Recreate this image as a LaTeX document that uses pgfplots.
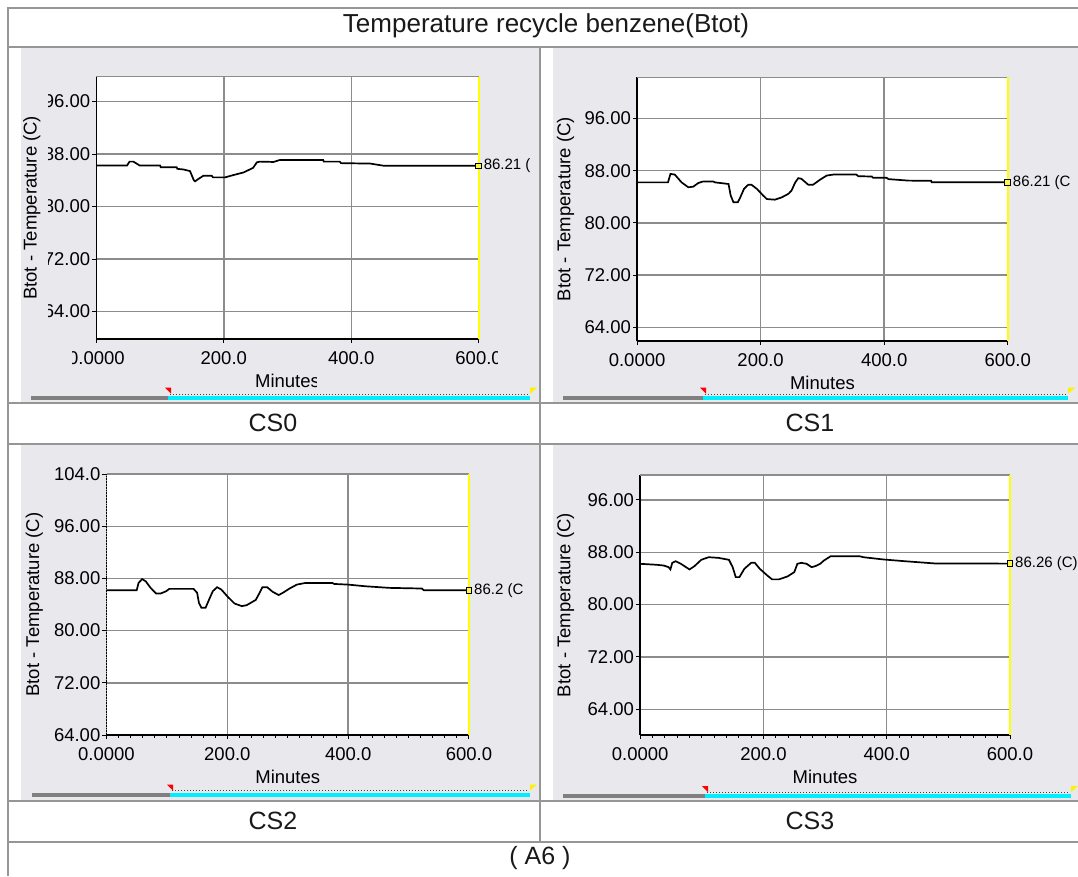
\documentclass[border=0pt]{standalone}
\usepackage{fontspec}
\setmainfont{Liberation Sans}
\usepackage{pgfplots}
\usepackage{pgfplotstable}
\pgfplotsset{compat=1.18}

\definecolor{panelbg}{RGB}{233,232,237}
\definecolor{rulegray}{RGB}{150,150,150}
\definecolor{gridgray}{RGB}{140,140,140}
\definecolor{cursor}{RGB}{255,255,0}
\definecolor{track}{RGB}{0,238,255}
\definecolor{slidergray}{RGB}{128,128,128}
\definecolor{captext}{RGB}{25,25,25}

\newcommand\tickfont{\fontsize{18.5}{20}\selectfont}
\newcommand\valfont{\fontsize{15}{17}\selectfont}
\newcommand\capfont{\fontsize{25}{28}\selectfont}
\newcommand\titlefont{\fontsize{26}{29}\selectfont}

% Btot temperature trends, minutes vs degC
\pgfplotstableread{
t v
0 86.25
48 86.25
52 86.85
58 86.85
64 86.50
68 86.25
100 86.25
101 86.00
126 86.00
127 85.75
137 85.65
147 85.40
150 84.70
153 84.00
155 83.85
160 84.20
168 84.70
181 84.70
183 84.45
202 84.45
215 84.80
231 85.20
246 85.90
252 86.75
257 86.85
278 86.80
288 87.10
356 87.10
357 86.85
382 86.85
384 86.62
430 86.55
452 86.21
600 86.21
}\csZero

\pgfplotstableread{
t v
0 86.20
50 86.20
54 87.50
61 87.40
72 86.20
83 85.45
91 85.55
99 86.10
107 86.35
123 86.35
126 86.20
140 86.05
148 85.95
151.5 84.20
156 83.15
163 83.15
167 83.90
173 85.20
180 85.85
185 85.85
194 85.20
204 84.20
210 83.65
223 83.55
234 83.90
245 84.45
250 84.95
256 86.20
261 86.85
266 86.75
277 85.85
285 85.85
296 86.60
307 87.25
318 87.40
355 87.40
358 87.15
380 87.10
382 86.90
404 86.90
407 86.70
440 86.47
476 86.45
477 86.21
600 86.21
}\csOne

\pgfplotstableread{
t v
0 86.20
50 86.20
53 87.30
59 87.90
65 87.55
73 86.55
82 85.70
90 85.70
99 86.05
104 86.40
144 86.40
150 85.80
153 84.25
157 83.50
164 83.50
170 84.80
176 86.05
183 86.65
190 86.30
201 85.15
212 84.15
224 83.75
232 83.90
247 84.70
252 85.55
258 86.65
266 86.65
275 85.95
285 85.45
292 85.80
303 86.45
315 87.05
329 87.30
374 87.30
377 87.15
400 87.05
428 86.80
468 86.55
522 86.45
525 86.20
600 86.20
}\csTwo

\pgfplotstableread{
t v
0 86.23
27 86.08
38 85.97
46 85.72
49 85.37
52 86.38
57.5 86.63
66 86.23
80 85.37
88 85.87
99 86.84
111 87.24
127 87.14
144 86.84
150 85.72
155 84.20
161 84.20
169 85.47
180 86.38
186 86.38
194 85.47
206 84.46
214 83.85
225 83.85
239 84.30
250 84.96
255 86.23
261.5 86.38
270 86.23
278 85.72
284 85.87
292 86.23
298 86.73
309 87.39
356 87.39
362 87.24
395 86.89
429 86.63
479 86.28
600 86.26
}\csThree

\pgfplotsset{
  trend/.style={
    scale only axis, clip=false,
    xmin=0, xmax=600,
    xtick={0,200,400,600},
    xticklabels={0.0000,200.0,400.0,600.0},
    ytick={64,72,80,88,96},
    yticklabels={64.00,72.00,80.00,88.00,96.00},
    axis x line*=bottom, axis y line*=left,
    axis line style={black, line width=1.8pt},
    tick align=outside,
    major tick length=4pt,
    minor tick length=3pt,
    tick style={black, line width=1pt},
    grid=major,
    major grid style={gridgray, line width=1.4pt},
    axis background/.style={fill=white},
    ticklabel style={font=\tickfont, text=black, inner sep=2pt},
    xticklabel style={yshift=-6pt},
    label style={font=\tickfont, text=black},
    xlabel={Minutes},
    ylabel={Btot - Temperature (C)},
    xlabel style={at={(axis description cs:0.5,0)}, anchor=center, yshift=-42pt},
  },
  curve/.style={black, line width=1.7pt, sharp plot},
  endmark/.style={only marks, mark=square*, mark size=2.8pt,
    mark options={fill=yellow!70!white, draw=black, line width=0.9pt}},
}

% time-window slider under each trend: left end, handle, right end, height
\newcommand\slider[4]{%
  \fill[slidergray] (#1,#4-2) rectangle (#2,#4+2);
  \fill[track] (#2,#4-2) rectangle (#3,#4+2);
  \draw[black!75, line width=1.1pt, dash pattern=on 1.2pt off 1.8pt] (#2+2,#4-3.6) -- (#3-2,#4-3.6);
  \fill[red] (#2-3,#4-10) -- (#2+3,#4-10) -- (#2+3,#4-4) -- cycle;
  \fill[yellow] (#3,#4-10) -- (#3+7,#4-10) -- (#3,#4-4) -- cycle;
}

\begin{document}
\begin{tikzpicture}
\useasboundingbox (0pt,0pt) rectangle (1078pt,-876pt);

\begin{scope}[x=1pt,y=-1pt]
  \fill[white] (0,0) rectangle (1078,876);
  \fill[panelbg] (21,48) rectangle (539,402);
  \fill[panelbg] (553,48) rectangle (1078,402);
  \fill[panelbg] (21,445) rectangle (539,800);
  \fill[panelbg] (553,445) rectangle (1078,800);
\end{scope}

% CS0
\begin{axis}[trend,
  at={(96.4pt,-339pt)}, anchor=south west,
  width=382.2pt, height=262.3pt,
  ymin=59.8, ymax=99.8,
  ylabel style={at={(axis description cs:-0.169,0.5)}, anchor=center},
]
  \draw[gridgray, line width=1.4pt] (rel axis cs:0,1) -- (rel axis cs:1,1);
  \draw[cursor, line width=2pt] (rel axis cs:1,0) -- (rel axis cs:1,1);
  \addplot[curve] table[x=t, y=v] {\csZero};
  \addplot[endmark] coordinates {(600,86.21)};
  \node[anchor=west, font=\valfont, inner sep=0pt, xshift=5pt] at (axis cs:600,86.21) {86.21 (};
\end{axis}

% CS1
\begin{axis}[trend,
  at={(637.1pt,-341pt)}, anchor=south west,
  width=370.6pt, height=263.7pt,
  ymin=61.9, ymax=102.3,
  ylabel style={at={(axis description cs:-0.193,0.5)}, anchor=center},
]
  \draw[gridgray, line width=1.4pt] (rel axis cs:0,1) -- (rel axis cs:1,1);
  \draw[cursor, line width=2pt] (rel axis cs:1,0) -- (rel axis cs:1,1);
  \addplot[curve] table[x=t, y=v] {\csOne};
  \addplot[endmark] coordinates {(600,86.21)};
  \node[anchor=west, font=\valfont, inner sep=0pt, xshift=5pt] at (axis cs:600,86.21) {86.21 (C};
\end{axis}

% CS2
\begin{axis}[trend,
  at={(106.5pt,-735pt)}, anchor=south west,
  width=362.5pt, height=261pt,
  ymin=64, ymax=104,
  ytick={64,72,80,88,96,104},
  yticklabels={64.00,72.00,80.00,88.00,96.00,104.0},
  minor xtick={20,40,...,580},
  y axis line style={densely dotted, line width=1.3pt},
  ylabel style={at={(axis description cs:-0.199,0.5)}, anchor=center},
]
  \draw[gridgray, line width=1.4pt] (rel axis cs:0,1) -- (rel axis cs:1,1);
  \draw[cursor, line width=2pt] (rel axis cs:1,0) -- (rel axis cs:1,1);
  \addplot[curve] table[x=t, y=v] {\csTwo};
  \addplot[endmark] coordinates {(600,86.2)};
  \node[anchor=west, font=\valfont, inner sep=0pt, xshift=5pt] at (axis cs:600,86.2) {86.2 (C};
\end{axis}

% CS3
\begin{axis}[trend,
  at={(640.2pt,-735pt)}, anchor=south west,
  width=369.8pt, height=260pt,
  ymin=60.07, ymax=99.8,
  minor xtick={20,40,...,580},
  ylabel style={at={(axis description cs:-0.2015,0.5)}, anchor=center},
]
  \draw[gridgray, line width=1.4pt] (rel axis cs:0,1) -- (rel axis cs:1,1);
  \draw[cursor, line width=2pt] (rel axis cs:1,0) -- (rel axis cs:1,1);
  \addplot[curve] table[x=t, y=v] {\csThree};
  \addplot[endmark] coordinates {(600,86.26)};
  \node[anchor=west, font=\valfont, inner sep=0pt, xshift=5pt] at (axis cs:600,86.26) {86.26 (C)};
\end{axis}

\begin{scope}[x=1pt,y=-1pt]
  % the CS0 trend window crops its outer labels
  \fill[panelbg] (41.5,90) rectangle (47.5,325);
  \fill[panelbg] (60,349) rectangle (71.5,370);
  \fill[panelbg] (497.5,349) rectangle (512,370);
  \fill[panelbg] (244,371) rectangle (253.8,393);
  \fill[panelbg] (316.5,371) rectangle (324,393);

  \slider{31}{168}{530}{397.7}
  \slider{563}{703}{1068}{397.7}
  \slider{32}{170}{530}{794.5}
  \slider{563}{705}{1071}{796}

  % table rules
  \draw[rulegray, line width=2pt]
    (8,8) -- (1078,8)
    (8,47) -- (1078,47)
    (8,403) -- (1078,403)
    (8,444) -- (1078,444)
    (8,801) -- (1078,801)
    (8,842) -- (1078,842)
    (8,7) -- (8,876)
    (540,47) -- (540,842);

  \node[font=\titlefont, text=captext] at (546,26) {Temperature recycle benzene(Btot)};
  \node[font=\capfont, text=captext] at (273,423) {CS0};
  \node[font=\capfont, text=captext] at (810,423) {CS1};
  \node[font=\capfont, text=captext] at (273,821) {CS2};
  \node[font=\capfont, text=captext] at (810,821) {CS3};
  \node[font=\capfont, text=captext] at (540,858) {( A6 )};
\end{scope}
\end{tikzpicture}
\end{document}
